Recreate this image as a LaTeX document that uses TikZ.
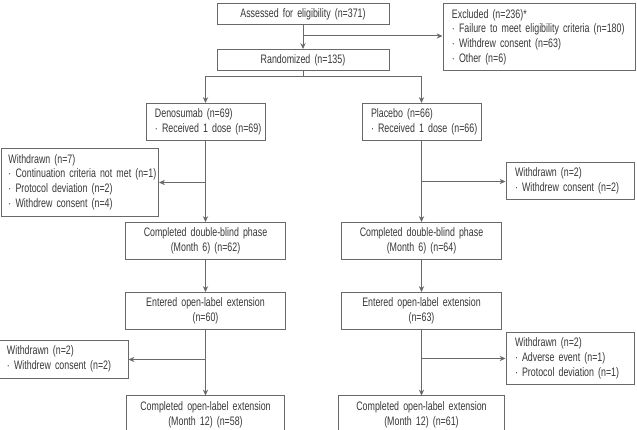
\documentclass[tikz,border=0pt]{standalone}
\usepackage{fontspec}
\setmainfont{Liberation Sans}[FakeStretch=0.72]
\usepackage{tikz}
\usetikzlibrary{arrows.meta, positioning, calc}
\definecolor{linegray}{RGB}{105,105,105}
\definecolor{textgray}{RGB}{55,55,55}
\newcommand{\lstack}[1]{\noindent\begin{tabular}{@{}l@{}}#1\end{tabular}}

\begin{document}
\begin{tikzpicture}[font=\fontsize{10.5}{12.8}\selectfont, x=0.03cm, y=-0.03cm,
    box/.style={draw=linegray, line width=0.85pt, text=textgray, align=center, inner xsep=0.2cm, inner ysep=0pt},
    lbox/.style={box, align=left, inner xsep=0.27cm},
    link/.style={draw=linegray, line width=0.85pt},
    arr/.style={link, -{Stealth[length=5pt, width=4.5pt]}}]
    \useasboundingbox (0,0) rectangle (637,430);
    \clip (0,0) rectangle (637,430);
    % screening
    \node[box, text width=4.76cm, minimum height=0.63cm] (assess) at (303,14.5) {Assessed for eligibility (n=371)};
    \node[box, text width=4.76cm, minimum height=0.63cm] (rand) at (303,60) {Randomized (n=135)};
    \node[lbox, text width=5.22cm, minimum height=2.01cm] (excl) at (539,37.5) {\lstack{Excluded (n=236)*\\ · Failure to meet eligibility criteria (n=180)\\ · Withdrew consent (n=63)\\ · Other (n=6)}};
    % arms
    \node[lbox, text width=3.03cm, minimum height=1.11cm] (deno) at (205.5,122) {\lstack{Denosumab (n=69)\\ · Received 1 dose (n=69)}};
    \node[lbox, text width=3.03cm, minimum height=1.11cm] (plac) at (421.5,122) {\lstack{Placebo (n=66)\\ · Received 1 dose (n=66)}};
    \node[lbox, text width=4.29cm, minimum height=2.01cm, inner xsep=0.21cm] (wdL1) at (80,182.5) {\lstack{Withdrawn (n=7)\\ · Continuation criteria not met (n=1)\\ · Protocol deviation (n=2)\\ · Withdrew consent (n=4)}};
    \node[lbox, text width=3.30cm, minimum height=1.11cm] (wdR1) at (570,181.5) {\lstack{Withdrawn (n=2)\\ · Withdrew consent (n=2)}};
    \node[box, text width=4.37cm, minimum height=1.11cm] (dbL) at (205.5,241) {Completed double-blind phase\\ (Month 6) (n=62)};
    \node[box, text width=4.40cm, minimum height=1.11cm] (dbR) at (421.5,241) {Completed double-blind phase\\ (Month 6) (n=64)};
    \node[box, text width=4.37cm, minimum height=1.11cm] (olL) at (205.5,311) {Entered open-label extension\\ (n=60)};
    \node[box, text width=4.40cm, minimum height=1.11cm] (olR) at (421.5,311) {Entered open-label extension\\ (n=63)};
    \node[lbox, text width=3.42cm, minimum height=1.14cm, inner xsep=0.21cm] (wdL2) at (64,359.5) {\lstack{Withdrawn (n=2)\\ · Withdrew consent (n=2)}};
    \node[lbox, text width=3.30cm, minimum height=1.56cm] (wdR2) at (570,358.5) {\lstack{Withdrawn (n=2)\\ · Adverse event (n=1)\\ · Protocol deviation (n=1)}};
    \node[box, text width=4.34cm, minimum height=1.11cm] (endL) at (205.5,414.5) {Completed open-label extension\\ (Month 12) (n=58)};
    \node[box, text width=4.58cm, minimum height=1.11cm] (endR) at (421.5,414.5) {Completed open-label extension\\ (Month 12) (n=61)};
    % connectors
    \draw[arr] (assess) -- (rand);
    \coordinate (exsplit) at (303,36);
    \draw[arr] (exsplit) -- (exsplit -| excl.west);
    \coordinate (split) at (303,77);
    \draw[link] (rand.south) -- (split);
    \draw[arr] (split) -| (deno.north);
    \draw[arr] (split) -| (plac.north);
    \draw[arr] (deno) -- (dbL);
    \draw[arr] (plac) -- (dbR);
    \draw[arr] (deno.south |- wdL1.east) -- (wdL1.east);
    \draw[arr] (plac.south |- wdR1.west) -- (wdR1.west);
    \draw[arr] (dbL) -- (olL);
    \draw[arr] (dbR) -- (olR);
    \draw[arr] (olL) -- (endL);
    \draw[arr] (olR) -- (endR);
    \draw[arr] (olL.south |- wdL2.east) -- (wdL2.east);
    \draw[arr] (olR.south |- wdR2.west) -- (wdR2.west);
\end{tikzpicture}
\end{document}
